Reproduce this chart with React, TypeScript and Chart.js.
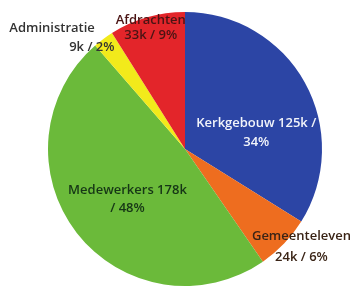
import React, { useEffect, useRef } from "react";
import { Chart, registerables } from "chart.js";

Chart.register(...registerables);

const categories = ["Kerkgebouw", "Gemeenteleven", "Medewerkers", "Administratie", "Afdrachten"];
const amounts = [125, 24, 178, 9, 33];
const amountLabels = ["125k", "24k", "178k", "9k", "33k"];
const percentLabels = ["34%", "6%", "48%", "2%", "9%"];
const colors = ["#2C45A5", "#EE6D1F", "#6BBA3A", "#F2EA1B", "#E3252A"];

// label lines per slice, with offsets relative to pie centre in radius units
const labelLines = [
  [
    { text: `${categories[0]} ${amountLabels[0]} /`, dx: 0.52, dy: -0.19 },
    { text: percentLabels[0], dx: 0.52, dy: -0.05 },
  ],
  [
    { text: categories[1], dx: 0.85, dy: 0.64 },
    { text: `${amountLabels[1]} / ${percentLabels[1]}`, dx: 0.85, dy: 0.79 },
  ],
  [
    { text: `${categories[2]} ${amountLabels[2]}`, dx: -0.42, dy: 0.3 },
    { text: `/ ${percentLabels[2]}`, dx: -0.42, dy: 0.43 },
  ],
  [
    { text: categories[3], dx: -0.97, dy: -0.88 },
    { text: `${amountLabels[3]} / ${percentLabels[3]}`, dx: -0.68, dy: -0.74 },
  ],
  [
    { text: categories[4], dx: -0.25, dy: -0.94 },
    { text: `${amountLabels[4]} / ${percentLabels[4]}`, dx: -0.25, dy: -0.83 },
  ],
];
const labelColors = ["#F2F4FA", "#3A2416", "#163616", "#333333", "#4A1414"];

const labelPlugin = {
  id: "sliceLabels",
  afterDatasetsDraw(chart: any) {
    const meta = chart.getDatasetMeta(0);
    const arc = meta.data[0];
    if (!arc) return;
    const { x, y, outerRadius } = arc.getProps(["x", "y", "outerRadius"], true);
    const ctx = chart.ctx;
    ctx.save();
    ctx.font = "600 13px 'Open Sans'";
    ctx.textAlign = "center";
    ctx.textBaseline = "middle";
    labelLines.forEach((lines, i) => {
      ctx.fillStyle = labelColors[i];
      lines.forEach((l) => {
        ctx.fillText(l.text, x + l.dx * outerRadius, y + l.dy * outerRadius);
      });
    });
    ctx.restore();
  },
};

export default function App() {
  const ref = useRef<HTMLCanvasElement>(null);
  useEffect(() => {
    document.body.style.margin = "0";
    const chart = new Chart(ref.current!, {
      type: "pie",
      data: {
        labels: categories,
        datasets: [
          {
            data: amounts,
            backgroundColor: colors,
            borderWidth: 0,
          },
        ],
      },
      options: {
        responsive: false,
        animation: false,
        layout: { padding: { top: 12, bottom: 3, left: 40, right: 22 } },
        plugins: {
          legend: { display: false },
          tooltip: { enabled: false },
        },
      },
      plugins: [labelPlugin],
    });
    return () => chart.destroy();
  }, []);
  return (
    <div style={{ width: 352, height: 289, background: "#fff" }}>
      <canvas ref={ref} width={352} height={289} />
    </div>
  );
}
